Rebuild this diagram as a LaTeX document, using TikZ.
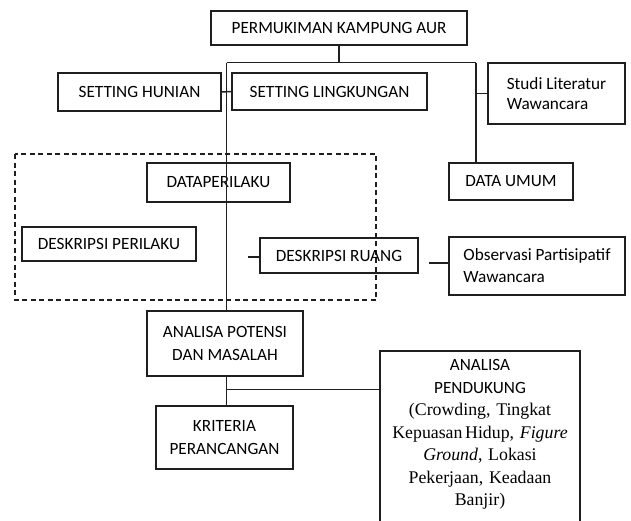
\documentclass[tikz,border=0pt]{standalone}
\usepackage{fontspec}
\setmainfont{Carlito}
\newfontfamily\serifft{Liberation Serif}
\begin{document}
\begin{tikzpicture}[x=1pt,y=-1pt,
  bx/.style={draw=black!88, line width=1.5pt, inner sep=0pt, align=center, font=\fontsize{17.2}{22.5}\selectfont},
  txt/.style={inner sep=0pt, align=center, font=\fontsize{17.2}{22.5}\selectfont},
  ln/.style={draw=black!88, line width=1.5pt},
  dbox/.style={draw=black!88, line width=1.3pt, dash pattern=on 5pt off 3.5pt}]
\useasboundingbox (0,0) rectangle (631,520);
\clip (0,0) rectangle (631,520);
\def\bxn#1#2#3#4#5#6{\node[bx, minimum width=#4-#2, minimum height=#5-#3] (#1) at ({(#2+#4)/2},{(#3+#5)/2}) {#6};}
\draw[dbox] (15,154) rectangle (376,300);
\bxn{top}{211}{11}{467}{45}{PERMUKIMAN KAMPUNG AUR}
\bxn{sh}{58}{73}{221}{111}{SETTING HUNIAN}
\bxn{sl}{232}{73}{427}{110}{SETTING LINGKUNGAN}
\node[bx, minimum width=137, minimum height=61, align=left, font=\fontsize{17.2}{20}\selectfont] (st) at (556.5,93.5) {Studi Literatur\\Wawancara};
\bxn{dp}{147}{163}{290}{202}{DATAPERILAKU}
\bxn{du}{449}{163}{573}{200}{DATA UMUM}
\bxn{dsp}{22}{227}{196}{261}{DESKRIPSI PERILAKU}
\bxn{dr}{260}{238}{418}{273}{DESKRIPSI RUANG}
\node[bx, minimum width=176, minimum height=58, align=left, font=\fontsize{17.2}{22}\selectfont] (obs) at (537,266) {Observasi Partisipatif\\Wawancara};
\bxn{ap}{147}{311}{303}{376}{ANALISA POTENSI\\DAN MASALAH}
\bxn{kr}{156}{406}{293}{469}{KRITERIA\\PERANCANGAN}
\node[bx, minimum width=200, minimum height=200, anchor=north] (pd) at (480,350) {};
\node[txt, text width=196] (pdt) at (480,434.5) {ANALISA\\PENDUKUNG\\{\serifft\fontsize{17.8}{22.5}\selectfont (Crowding, Tingkat\\Kepuasan\hspace{0.15em}Hidup, \textit{Figure}\\\textit{Ground}, Lokasi\\Pekerjaan, Keadaan\\Banjir)\par}};
\coordinate (j1) at (226.5,62.5);
\coordinate (j2) at (476,62.5);
\coordinate (drl) at (248,257);
\coordinate (obl) at (429,263);
\coordinate (j3) at (226.5,389.5);
\draw[ln] (top.south) -- (top.south |- j1);
\draw[ln] (j1) -- (j2);
\draw[ln] (j1) -- (ap.north -| j1);
\draw[ln] (j2) -- (du.north -| j2);
\draw[ln] (sh.east) -- (sl.west);
\draw[ln] (st.west -| j2) -- (st.west);
\draw[ln] (drl) -- (dr.west |- drl);
\draw[ln] (obl) -- (obs.west |- obl);
\draw[ln] (ap.south -| j1) -- (kr.north -| j1);
\draw[ln] (j3) -- (pd.west |- j3);
\end{tikzpicture}
\end{document}
